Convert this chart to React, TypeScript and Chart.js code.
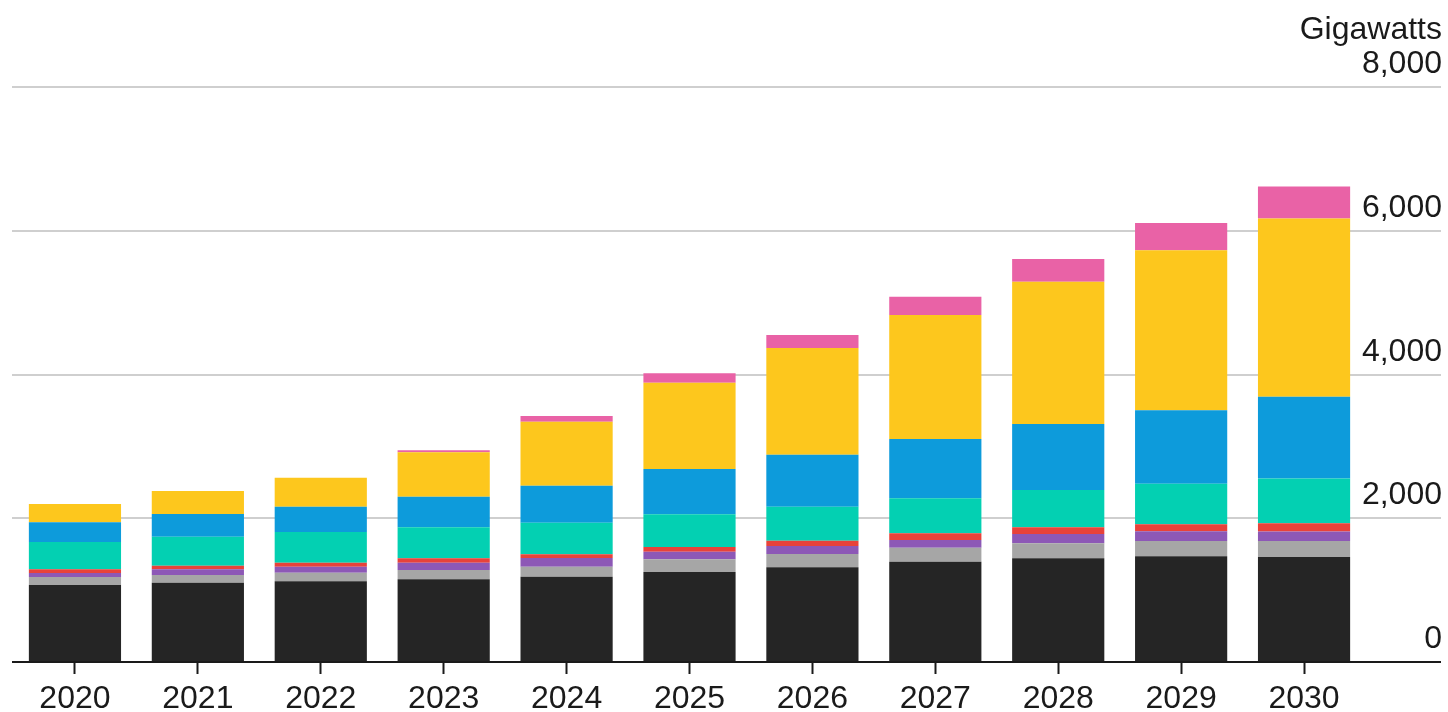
import React, { useEffect, useRef } from "react";
import { Chart, registerables } from "chart.js";

Chart.register(...registerables);

const years = ["2020", "2021", "2022", "2023", "2024", "2025", "2026", "2027", "2028", "2029", "2030"];

// Stack order bottom -> top
const seriesBlack = [1071, 1103, 1123, 1151, 1187, 1252, 1317, 1395, 1443, 1470, 1460];
const seriesGray = [111, 107, 120, 129, 139, 176, 185, 195, 209, 213, 225];
const seriesPurple = [56, 79, 83, 102, 121, 106, 111, 107, 130, 135, 130];
const seriesRed = [51, 50, 56, 61, 51, 65, 74, 93, 93, 97, 117];
const seriesTeal = [380, 403, 427, 431, 440, 455, 473, 487, 519, 566, 621];
const seriesBlue = [274, 316, 352, 426, 515, 631, 723, 825, 918, 1020, 1137];
const seriesYellow = [255, 320, 404, 618, 890, 1201, 1484, 1725, 1980, 2226, 2481];
const seriesPink = [0, 0, 0, 28, 79, 131, 181, 255, 316, 380, 445];

const yTicks = [0, 2000, 4000, 6000, 8000];
const yTickLabels = ["0", "2,000", "4,000", "6,000", "8,000"];
const unitLabel = "Gigawatts";

const FONT = "'Liberation Sans', Arial, Helvetica, sans-serif";

export default function App() {
  const canvasRef = useRef<HTMLCanvasElement | null>(null);

  useEffect(() => {
    const canvas = canvasRef.current;
    if (!canvas) return;

    const LEFT_LINE = 12;
    const RIGHT_LINE = 1441;

    const overlay = {
      id: "overlay",
      beforeDatasetsDraw(chart: any) {
        const { ctx } = chart;
        const y = chart.scales.y;
        ctx.save();
        ctx.strokeStyle = "#cfcfcf";
        ctx.lineWidth = 2;
        yTicks.forEach((v) => {
          if (v === 0) return;
          const py = Math.round(y.getPixelForValue(v));
          ctx.beginPath();
          ctx.moveTo(LEFT_LINE, py);
          ctx.lineTo(RIGHT_LINE, py);
          ctx.stroke();
        });
        ctx.restore();
      },
      afterDatasetsDraw(chart: any) {
        const { ctx } = chart;
        const y = chart.scales.y;
        ctx.save();
        const p0 = Math.round(y.getPixelForValue(0));
        ctx.strokeStyle = "#1a1a1a";
        ctx.lineWidth = 2;
        ctx.beginPath();
        ctx.moveTo(LEFT_LINE, p0);
        ctx.lineTo(RIGHT_LINE, p0);
        ctx.stroke();

        ctx.fillStyle = "#1a1a1a";
        ctx.font = `32px ${FONT}`;
        ctx.textAlign = "right";
        ctx.textBaseline = "alphabetic";
        yTicks.forEach((v, i) => {
          const py = y.getPixelForValue(v);
          ctx.fillText(yTickLabels[i], RIGHT_LINE + 1, py - 14);
        });
        const top = y.getPixelForValue(8000);
        ctx.fillText(unitLabel, RIGHT_LINE + 1, top - 48);
        ctx.restore();
      },
    };

    const mk = (label: string, data: number[], color: string) => ({
      label,
      data,
      backgroundColor: color,
      borderWidth: 0,
      barPercentage: 0.75,
      categoryPercentage: 1,
    });

    const chart = new Chart(canvas, {
      type: "bar",
      data: {
        labels: years,
        datasets: [
          mk("Black", seriesBlack, "#252525"),
          mk("Gray", seriesGray, "#a6a6a6"),
          mk("Purple", seriesPurple, "#8d58b6"),
          mk("Red", seriesRed, "#e8423a"),
          mk("Teal", seriesTeal, "#03d0b2"),
          mk("Blue", seriesBlue, "#0d9bdb"),
          mk("Yellow", seriesYellow, "#fdc71d"),
          mk("Pink", seriesPink, "#e962a6"),
        ],
      },
      options: {
        responsive: false,
        animation: false,
        layout: { padding: { left: 13.5, right: 1448 - 1365.5, top: 87, bottom: 0 } },
        plugins: {
          legend: { display: false },
          tooltip: { enabled: false },
        },
        scales: {
          x: {
            stacked: true,
            offset: true,
            grid: {
              offset: false,
              drawOnChartArea: false,
              drawTicks: true,
              tickLength: 12,
              tickWidth: 2,
              tickColor: "#1a1a1a",
            },
            border: { display: false },
            ticks: {
              color: "#1a1a1a",
              font: { family: FONT, size: 32 },
              padding: 6,
              maxRotation: 0,
              autoSkip: false,
            },
            afterFit: (scale: any) => {
              scale.height = 50;
            },
          },
          y: {
            stacked: true,
            display: false,
            min: 0,
            max: 8000,
          },
        },
      },
      plugins: [overlay],
    } as any);

    return () => chart.destroy();
  }, []);

  return (
    <div style={{ position: "fixed", left: 0, top: 0, width: 1448, height: 712, background: "#fff" }}>
      <canvas ref={canvasRef} width={1448} height={712} style={{ display: "block" }} />
    </div>
  );
}
